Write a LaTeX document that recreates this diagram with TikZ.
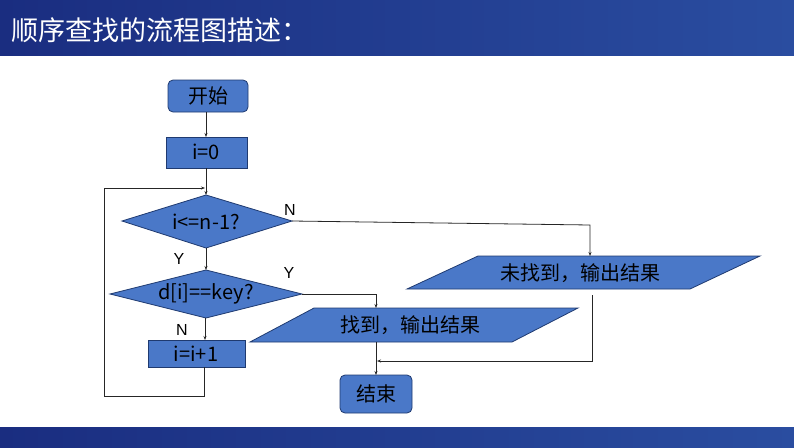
\documentclass[tikz,border=0pt]{standalone}
\usepackage{fontspec}
\setmainfont{Liberation Sans}
\newfontfamily\cjk{Noto Sans CJK SC}
\usetikzlibrary{arrows.meta}
\definecolor{boxfill}{HTML}{4A78C8}
\definecolor{boxline}{HTML}{1F3A70}
\definecolor{barL}{HTML}{1A2D80}
\definecolor{barR}{HTML}{2A4DA0}
\begin{document}
\begin{tikzpicture}[x=1pt,y=-1pt,
  shp/.style={fill=boxfill,draw=boxline,line width=0.8pt},
  lbl/.style={font=\fontsize{20}{22}\selectfont\cjk},
  yn/.style={font=\fontsize{16}{18}\selectfont},
  con/.style={draw=black!85,line width=0.8pt},
  arr/.style={con,-{Stealth[length=4pt,width=3pt]}}]
\useasboundingbox (0,0) rectangle (794,447);
\shade[left color=barL,right color=barR] (0,0) rectangle (794,55);
\shade[left color=barL,right color=barR] (0,427) rectangle (794,447);
\node[anchor=west,text=white,font=\fontsize{27}{30}\selectfont\cjk] (title) at (8,30) {顺序查找的流程图描述：};
% shapes
\draw[shp,rounded corners=5pt] (168,80) rectangle (248,112);
\node[lbl] (start) at (208,96) {开始};
\draw[shp] (166,137) rectangle (247,168);
\node[lbl] (init) at (206,152) {i=0};
\draw[shp] (122,221) -- (206,195) -- (292,221) -- (206,248) -- cycle;
\node[lbl] (d1) at (206,222) {i<=n-1?};
\draw[shp] (110,294) -- (206,270) -- (302,294) -- (206,318) -- cycle;
\node[lbl] (d2) at (206,294) {d[i]==key?};
\draw[shp] (148,340) rectangle (245,367);
\node[lbl] (inc) at (196,354) {i=i+1};
\draw[shp] (478,256) -- (760,256) -- (690,289) -- (407,289) -- cycle;
\node[lbl] (nf) at (580,273) {未找到，输出结果};
\draw[shp] (314,308) -- (578,308) -- (512,342) -- (250,342) -- cycle;
\node[lbl] (fd) at (410,325) {找到，输出结果};
\draw[shp,rounded corners=5pt] (340,375) rectangle (412,413);
\node[lbl] (end) at (376,394) {结束};
% coordinates
\coordinate (p1) at (206,112);
\coordinate (p2) at (206,137);
\coordinate (p3) at (206,168);
\coordinate (p4) at (206,195);
\coordinate (p5) at (206,248);
\coordinate (p6) at (206,270);
\coordinate (p7) at (205,318);
\coordinate (p8) at (205,340);
\coordinate (r1) at (292,221);
\coordinate (r1a) at (590,225);
\coordinate (r1b) at (590,256);
\coordinate (r2) at (302,294);
\coordinate (r2a) at (376,294);
\coordinate (r2b) at (376,308);
\coordinate (f1) at (376,342);
\coordinate (f2) at (376,375);
\coordinate (n1) at (592,295);
\coordinate (n2) at (592,361);
\coordinate (n3) at (377,361);
\coordinate (l1) at (204,367);
\coordinate (l2) at (204,396);
\coordinate (l3) at (104,396);
\coordinate (l4) at (104,188);
\coordinate (l5) at (205,188);
\draw[arr] (p1) -- (p2);
\draw[arr] (p3) -- (p4);
\draw[arr] (p5) -- (p6);
\draw[arr] (p7) -- (p8);
\draw[arr] (r1) -- (r1a) -- (r1b);
\draw[arr] (r2) -- (r2a) -- (r2b);
\draw[arr] (f1) -- (f2);
\draw[arr] (n1) -- (n2) -- (n3);
\draw[arr] (l1) -- (l2) -- (l3) -- (l4) -- (l5);
\node[yn] (N1) at (290,210) {N};
\node[yn] (Y1) at (179,259) {Y};
\node[yn] (Y2) at (289,273) {Y};
\node[yn] (N2) at (182,330) {N};
\end{tikzpicture}
\end{document}
